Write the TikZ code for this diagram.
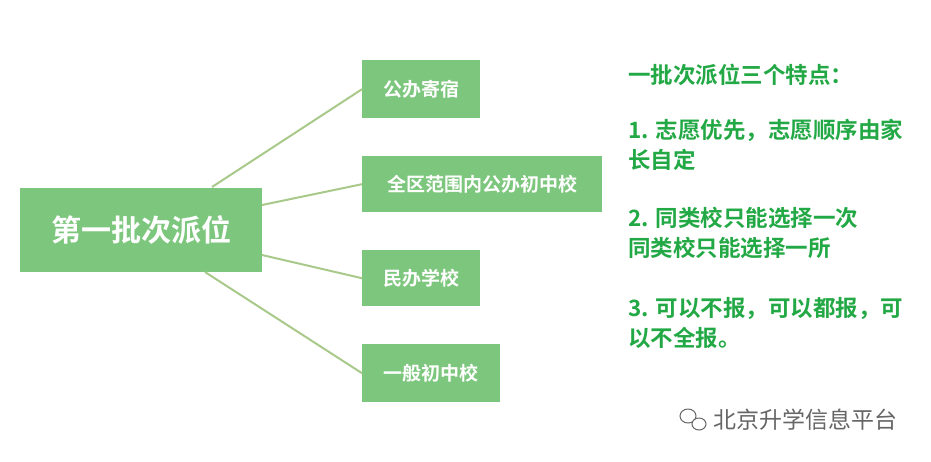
\documentclass[tikz,border=0pt]{standalone}
\usepackage{fontspec}
\setmainfont{Noto Sans CJK SC}[BoldFont={Noto Sans CJK SC Bold}]
\definecolor{boxg}{HTML}{7DC67D}
\definecolor{lineg}{HTML}{A9C98A}
\definecolor{txtg}{HTML}{22A844}
\tikzset{
 leaf/.style={fill=boxg,text=white,font=\bfseries\fontsize{19}{22}\selectfont,anchor=north west,inner sep=0pt},
 conn/.style={draw=lineg,line width=2pt},
 note/.style={text=txtg,font=\bfseries\fontsize{22.5}{26}\selectfont,anchor=west,inner sep=0pt}
}
\begin{document}
\begin{tikzpicture}[x=1pt,y=-1pt]
\useasboundingbox (0,0) rectangle (931,461);
\node[leaf,minimum width=242pt,minimum height=84pt,font=\bfseries\fontsize{30}{34}\selectfont] (m) at (20,188) {第一批次派位};
\node[leaf,minimum width=118pt,minimum height=58pt] (b1) at (362,60) {公办寄宿};
\node[leaf,minimum width=240pt,minimum height=56pt] (b2) at (362,156) {全区范围内公办初中校};
\node[leaf,minimum width=118pt,minimum height=56pt] (b3) at (362,250) {民办学校};
\node[leaf,minimum width=138pt,minimum height=58pt] (b4) at (362,344) {一般初中校};
\coordinate (s1) at (212,187); \coordinate (s2) at (262,205);
\coordinate (s3) at (262,255); \coordinate (s4) at (205,272);
\draw[conn] (s1) -- (b1.west); \draw[conn] (s2) -- (b2.west);
\draw[conn] (s3) -- (b3.west); \draw[conn] (s4) -- (b4.west);
\node[note] (t1) at (628,75) {一批次派位三个特点：};
\node[note] (t2) at (628,130) {1. 志愿优先，志愿顺序由家};
\node[note] (t3) at (628,160) {长自定};
\node[note] (t4) at (628,218) {2. 同类校只能选择一次};
\node[note] (t5) at (628,248) {同类校只能选择一所};
\node[note] (t6) at (628,308) {3. 可以不报，可以都报，可};
\node[note] (t7) at (628,338) {以不全报。};
\node[anchor=west,text=gray!80!black,font=\fontsize{23}{26}\selectfont,inner sep=0pt] (w) at (713,420) {北京升学信息平台};
\draw[gray!80!black,line width=1pt] (688,416) ellipse (8pt and 7pt);
\draw[gray!80!black,line width=1pt,fill=white] (699,424) ellipse (7pt and 6pt);
\end{tikzpicture}
\end{document}
